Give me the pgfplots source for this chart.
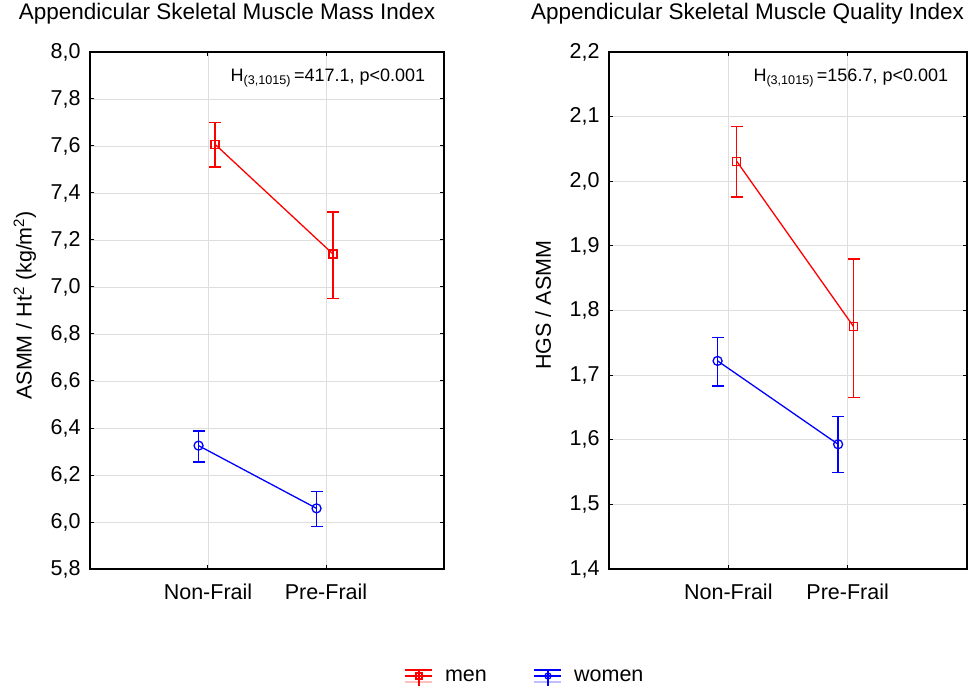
\documentclass[border=0pt]{standalone}
\usepackage{fontspec}
\setmainfont{Liberation Sans}
\usepackage{pgfplots}
\pgfplotsset{compat=1.18}

\definecolor{gridgray}{RGB}{222,222,222}

\pgfplotsset{
 panel/.style={
  scale only axis, height=517bp,
  xmin=0, xmax=3, xtick={1,2}, xticklabels={Non-Frail,Pre-Frail},
  grid=major, major grid style={gridgray, line width=0.8bp},
  axis line style={line width=1.4bp},
  tick align=inside, major tick length=4bp, tick style={black, line width=1bp},
  tick label style={font=\fontsize{21.5bp}{23bp}\selectfont},
  yticklabel style={/pgf/number format/use comma, /pgf/number format/fixed,
   /pgf/number format/fixed zerofill, /pgf/number format/precision=1,
   /pgf/number format/assume math mode=true, xshift=-6bp},
  xticklabel style={yshift=-11bp},
  label style={font=\fontsize{21.5bp}{23bp}\selectfont},
  ylabel style={at={(axis description cs:-0.184,0.51)}, anchor=center},
  title style={at={(axis description cs:0.387,1)}, anchor=center, yshift=32bp,
   font=\fontsize{22.5bp}{24bp}\selectfont},
  error bars/y dir=both, error bars/y explicit,
 },
 men/.style={red, line width=1.3bp, mark=square, mark size=4bp, mark options={solid},
  error bars/error bar style={red, line width=1.5bp},
  error bars/error mark options={red, rotate=90, mark size=6bp, line width=1.5bp}},
 women/.style={blue, line width=1.3bp, mark=o, mark size=4.5bp, mark options={solid},
  error bars/error bar style={blue, line width=1.5bp},
  error bars/error mark options={blue, rotate=90, mark size=6bp, line width=1.5bp}},
 legend image code/.code={
  \draw[#1, mark=none] (0bp,6bp) -- (27bp,6bp);
  \draw[#1, mark=none] (0bp,0bp) -- (27bp,0bp);
  \draw[#1, mark=none, opacity=0.25] (0bp,-6bp) -- (27bp,-6bp);
  \draw[#1, mark=none] (13.5bp,6bp) -- (13.5bp,-10bp);
  \draw[#1, mark size=3bp] plot coordinates {(13.5bp,0bp)};
 },
}

\begin{document}
\begin{tikzpicture}
\useasboundingbox (-90bp,-119bp) rectangle (888bp,569bp);

\begin{axis}[panel, width=354bp,
 ymin=5.8, ymax=8.0, ytick={5.8,6.0,...,8.01},
 ylabel={ASMM / Ht\textsuperscript{2} (kg/m\textsuperscript{2})},
 title={Appendicular Skeletal Muscle Mass Index},
 legend style={at={(axis description cs:1.229,-0.209)}, anchor=center,
  legend columns=2, draw=none, fill=none,
  font=\fontsize{21.5bp}{23bp}\selectfont,
  /tikz/every odd column/.append style={column sep=10bp},
  /tikz/every even column/.append style={column sep=45bp}},
]
\addplot[men] coordinates {
 (1.06,7.607) += (0,0.093) -= (0,0.097)
 (2.06,7.140) += (0,0.180) -= (0,0.190)
};
\addlegendentry{men}
\addplot[women] coordinates {
 (0.92,6.325) += (0,0.062) -= (0,0.070)
 (1.92,6.058) += (0,0.071) -= (0,0.078)
};
\addlegendentry{women}
\node[anchor=east, font=\fontsize{18bp}{20bp}\selectfont]
 at (axis description cs:0.957,0.95) {H\textsubscript{(3,1015)}\,=417.1, p<0.001};
\end{axis}

\begin{axis}[panel, width=358bp, at={(519bp,0bp)}, anchor=south west,
 ymin=1.4, ymax=2.2, ytick={1.4,1.5,...,2.21},
 ylabel={HGS / ASMM},
 title={Appendicular Skeletal Muscle Quality Index},
]
\addplot[men] coordinates {
 (1.07,2.031) += (0,0.054) -= (0,0.055)
 (2.05,1.775) += (0,0.105) -= (0,0.110)
};
\addplot[women] coordinates {
 (0.91,1.722) += (0,0.036) -= (0,0.039)
 (1.92,1.593) += (0,0.043) -= (0,0.044)
};
\node[anchor=east, font=\fontsize{18bp}{20bp}\selectfont]
 at (axis description cs:0.957,0.95) {H\textsubscript{(3,1015)}\,=156.7, p<0.001};
\end{axis}
\end{tikzpicture}
\end{document}
